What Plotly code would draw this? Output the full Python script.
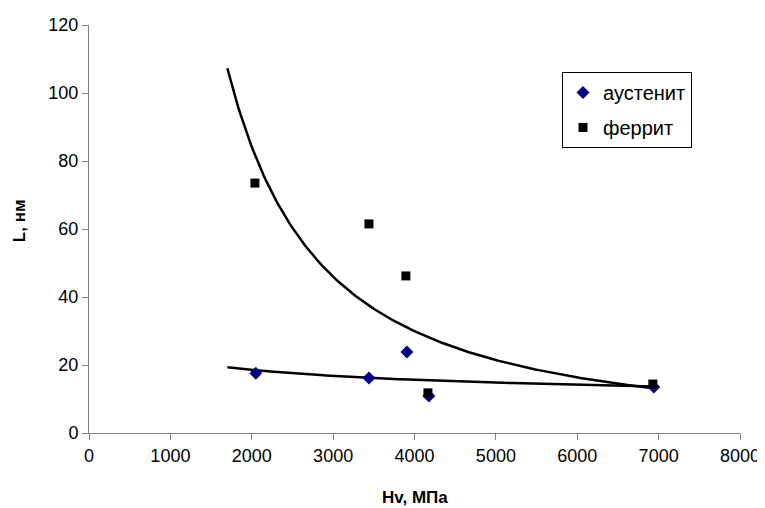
import numpy as np
import plotly.graph_objects as go

# ---- data ----
austenite_hv = [2050, 3440, 3906, 4177, 6941]
austenite_L = [17.6, 16.2, 23.8, 10.9, 13.5]

ferrite_hv = [2039, 3440, 3894, 4165, 6929]
ferrite_L = [73.5, 61.5, 46.2, 11.8, 14.4]

x_ticks = [0, 1000, 2000, 3000, 4000, 5000, 6000, 7000, 8000]
y_ticks = [0, 20, 40, 60, 80, 100, 120]

trend_start = 1700  # power trendlines are extended backward to here

FONT = "Arial, 'Liberation Sans', sans-serif"


def power_trend(xs, ys, x0, x1, n=200):
    b, ln_a = np.polyfit(np.log(xs), np.log(ys), 1)
    xx = np.linspace(x0, x1, n)
    return xx, np.exp(ln_a) * xx ** b


fig = go.Figure()

tx, ty = power_trend(austenite_hv, austenite_L, trend_start, max(austenite_hv))
fig.add_trace(go.Scatter(x=tx, y=ty, mode="lines", line=dict(color="black", width=2.5),
                         showlegend=False, hoverinfo="skip"))
tx, ty = power_trend(ferrite_hv, ferrite_L, trend_start, max(ferrite_hv))
fig.add_trace(go.Scatter(x=tx, y=ty, mode="lines", line=dict(color="black", width=2.5),
                         showlegend=False, hoverinfo="skip"))

fig.add_trace(go.Scatter(x=austenite_hv, y=austenite_L, mode="markers", name="аустенит",
                         legendgroup="a",
                         marker=dict(symbol="diamond", size=10, color="#000080")))
fig.add_trace(go.Scatter(x=ferrite_hv, y=ferrite_L, mode="markers", name="феррит",
                         legendgroup="f",
                         marker=dict(symbol="square", size=9, color="black")))

axis_common = dict(
    showgrid=False, zeroline=False, showline=True, linecolor="#808080", linewidth=1,
    ticks="outside", ticklen=6, tickcolor="#808080", tickwidth=1, automargin=False,
    tickfont=dict(family=FONT, size=18, color="black"),
)

fig.update_xaxes(range=[0, 8000], tickvals=x_ticks, **axis_common)
fig.update_yaxes(range=[0, 120], tickvals=y_ticks, **axis_common)

fig.add_annotation(text="<b>Hv, МПа</b>", xref="paper", yref="paper", x=0.5, y=-0.159,
                   xanchor="center", yanchor="middle", showarrow=False,
                   font=dict(family=FONT, size=17, color="black"))
fig.add_annotation(text="<b>L, нм</b>", xref="paper", yref="paper", x=-0.107, y=0.52,
                   xanchor="center", yanchor="middle", showarrow=False, textangle=-90,
                   font=dict(family=FONT, size=17, color="black"))

# the page body adds an 8px margin, so the figure is drawn 8px smaller
fig.update_layout(
    width=757, height=500,
    margin=dict(l=81, r=25, t=17, b=75, autoexpand=False),
    paper_bgcolor="white", plot_bgcolor="white",
    font=dict(family=FONT, color="black"),
    legend=dict(x=0.7266, y=0.885, xanchor="left", yanchor="top",
                bordercolor="black", borderwidth=1, bgcolor="white",
                font=dict(family=FONT, size=20, color="black"),
                traceorder="grouped", tracegroupgap=6, itemwidth=30),
)

fig.write_html("out.html")
